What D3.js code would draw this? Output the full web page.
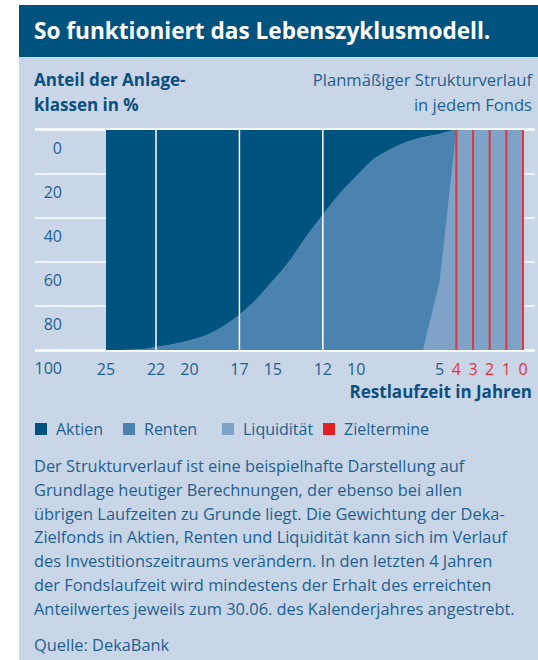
<!DOCTYPE html>
<html>
  <head>
    <meta charset="utf-8">
    <title>Lebenszyklusmodell</title>
    <style>
    body { margin: 0; border: 0; overflow: hidden; background: #fff; }
    text { font-family: "Open Sans", sans-serif; }
    .lbl { font-size: 16px; fill: #1f5f93; }
    .bold { font-weight: bold; fill: #0b4f80; }
    </style>
  </head>
  <body>
    <script src="https://cdnjs.cloudflare.com/ajax/libs/d3/7.8.5/d3.min.js"></script>
    <script>
// Restlaufzeit in Jahren
var years = [25, 24, 23, 22, 21, 20, 19, 18, 17, 16, 15, 14, 13, 12, 11, 10, 9, 8, 7, 6, 5, 4, 3, 2, 1, 0];
// Anteil in %
var aktien = [100, 100, 99.8, 98.6, 97.4, 95.6, 93.3, 89.3, 84, 77, 68.5, 59.5, 48.5, 38.5, 29, 21, 13.5, 9, 5.5, 3.3, 1.8, 0, 0, 0, 0, 0];
var liquiditaet = [0, 0, 0, 0, 0, 0, 0, 0, 0, 0, 0, 0, 0, 0, 0, 0, 0, 0, 0, 0, 31, 100, 100, 100, 100, 100];

var yTicks = [0, 20, 40, 60, 80, 100];
var xTicks = [25, 22, 20, 17, 15, 12, 10, 5, 4, 3, 2, 1, 0];
var dividers = [22, 17, 12];
var zieltermine = [4, 3, 2, 1, 0];

var legend = [
  {name: "Aktien", color: "#00527f"},
  {name: "Renten", color: "#4a83b0"},
  {name: "Liquidität", color: "#7fa3c6"},
  {name: "Zieltermine", color: "#e31e24"}
];

var bodyLines = [
  "Der Strukturverlauf ist eine beispielhafte Darstellung auf",
  "Grundlage heutiger Berechnungen, der ebenso bei allen",
  "übrigen Laufzeiten zu Grunde liegt. Die Gewichtung der Deka-",
  "Zielfonds in Aktien, Renten und Liquidität kann sich im Verlauf",
  "des Investitionszeitraums verändern. In den letzten 4 Jahren",
  "der Fondslaufzeit wird mindestens der Erhalt des erreichten",
  "Anteilwertes jeweils zum 30.06. des Kalenderjahres angestrebt."
];

var width = 538, height = 660;

var data = years.map(function(t, i) {
  return {t: t, a: aktien[i], l: liquiditaet[i], r: 100 - aktien[i] - liquiditaet[i]};
});

var svg = d3.select("body").append("svg")
  .attr("width", width)
  .attr("height", height);

// panel
svg.append("rect").attr("x", 19).attr("y", 5).attr("width", width - 19).attr("height", height - 5).attr("fill", "#c9d6e7");
svg.append("rect").attr("x", 19).attr("y", 5).attr("width", width - 19).attr("height", 52).attr("fill", "#00527f");

svg.append("text")
  .attr("x", 34).attr("y", 39)
  .style("font-size", "22.6px").style("font-weight", "bold").attr("fill", "#fff")
  .text("So funktioniert das Lebenszyklusmodell.");

svg.append("text").attr("class", "bold").attr("x", 34).attr("y", 86).style("font-size", "17px").text("Anteil der Anlage-");
svg.append("text").attr("class", "bold").attr("x", 34).attr("y", 111).style("font-size", "17px").text("klassen in %");
svg.append("text").attr("class", "lbl").attr("x", 532).attr("y", 86).attr("text-anchor", "end").style("font-size", "16.6px").text("Planmäßiger Strukturverlauf");
svg.append("text").attr("class", "lbl").attr("x", 532).attr("y", 111).attr("text-anchor", "end").style("font-size", "16.6px").text("in jedem Fonds");

var x = d3.scaleLinear().domain([25, 0]).range([106, 523]);
var y = d3.scaleLinear().domain([0, 100]).range([130, 350]);

// gridlines
svg.append("g").selectAll("line")
  .data(yTicks)
  .join("line")
  .attr("x1", 35).attr("x2", 535)
  .attr("y1", function(d) { return y(d); })
  .attr("y2", function(d) { return y(d); })
  .attr("stroke", "#fff").attr("stroke-width", 1.6);

svg.append("g").selectAll("text")
  .data(yTicks)
  .join("text")
  .attr("class", "lbl")
  .attr("x", 62)
  .attr("y", function(d) { return y(d) + 24; })
  .attr("text-anchor", "end")
  .text(function(d) { return d; });

// areas
var rentenArea = d3.area()
  .x(function(d) { return x(d.t); })
  .y0(function(d) { return y(d.a); })
  .y1(function() { return y(100); })
  .curve(d3.curveMonotoneX);

var liqArea = d3.area()
  .x(function(d) { return x(d.t); })
  .y0(function(d) { return y(100 - d.l); })
  .y1(function() { return y(100); });

var aktienArea = d3.area()
  .x(function(d) { return x(d.t); })
  .y0(function() { return y(0); })
  .y1(function(d) { return y(d.a); })
  .curve(d3.curveMonotoneX);

svg.append("path").datum(data).attr("d", rentenArea).attr("fill", legend[1].color);
svg.append("path").datum(data).attr("d", liqArea).attr("fill", legend[2].color);
svg.append("path").datum(data).attr("d", aktienArea).attr("fill", legend[0].color);

// top and bottom lines over the areas
svg.append("g").selectAll("line")
  .data([0, 100])
  .join("line")
  .attr("x1", 35).attr("x2", 535)
  .attr("y1", function(d) { return y(d) + (d == 0 ? -1 : 1); })
  .attr("y2", function(d) { return y(d) + (d == 0 ? -1 : 1); })
  .attr("stroke", "#fff").attr("stroke-width", 1.6);

svg.append("g").selectAll("line")
  .data(dividers)
  .join("line")
  .attr("x1", function(d) { return x(d); })
  .attr("x2", function(d) { return x(d); })
  .attr("y1", y(0)).attr("y2", y(100))
  .attr("stroke", "#fff").attr("stroke-width", 1.5);

svg.append("g").selectAll("line")
  .data(zieltermine)
  .join("line")
  .attr("x1", function(d) { return x(d); })
  .attr("x2", function(d) { return x(d); })
  .attr("y1", y(0)).attr("y2", y(100))
  .attr("stroke", "#e4343c").attr("stroke-width", 2);

// x labels
svg.append("g").selectAll("text")
  .data(xTicks)
  .join("text")
  .attr("class", "lbl")
  .attr("x", function(d) { return x(d); })
  .attr("y", 375)
  .attr("text-anchor", "middle")
  .style("fill", function(d) { return zieltermine.indexOf(d) >= 0 ? "#e8313a" : null; })
  .text(function(d) { return d; });

svg.append("text").attr("class", "bold").attr("x", 532).attr("y", 398).attr("text-anchor", "end")
  .style("font-size", "17px").text("Restlaufzeit in Jahren");

// legend
var lx = [35, 123, 222, 323];
var lg = svg.append("g").selectAll("g")
  .data(legend)
  .join("g")
  .attr("transform", function(d, i) { return "translate(" + lx[i] + ",423)"; });
lg.append("rect").attr("width", 12).attr("height", 12).attr("fill", function(d) { return d.color; });
lg.append("text").attr("class", "lbl").attr("x", 21).attr("y", 12).text(function(d) { return d.name; });

// description
svg.append("g").selectAll("text")
  .data(bodyLines)
  .join("text")
  .attr("class", "lbl")
  .style("font-size", "16.4px")
  .attr("x", 34)
  .attr("y", function(d, i) { return 472 + i * 23.8; })
  .text(function(d) { return d; });

svg.append("text").attr("class", "lbl").style("font-size", "16.4px").attr("x", 34).attr("y", 651).text("Quelle: DekaBank");
    </script>
  </body>
</html>
